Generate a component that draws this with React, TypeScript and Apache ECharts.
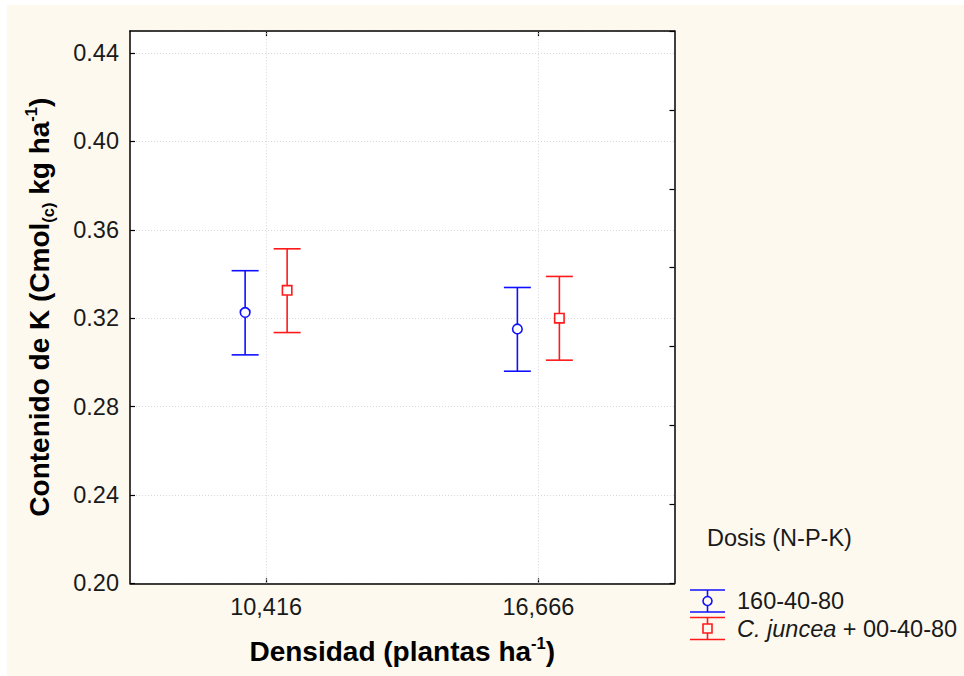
import React, { useEffect, useRef } from "react";
import * as echarts from "echarts";

const categories = ["10,416", "16,666"];
const seriesNames = ["160-40-80", "C. juncea + 00-40-80"];
const seriesColors = ["#1010ff", "#ff1a1a"];
const mean160 = [0.3226, 0.3151];
const lower160 = [0.3034, 0.296];
const upper160 = [0.3415, 0.3339];
const meanCj = [0.3326, 0.32];
const lowerCj = [0.3135, 0.301];
const upperCj = [0.3514, 0.3389];
const yMin = 0.2;
const yMax = 0.45;
const yInterval = 0.04;

const FONT = "'Liberation Sans', Arial, sans-serif";

function makeSeries(
  name: string,
  color: string,
  means: number[],
  lows: number[],
  highs: number[],
  dx: number,
  marker: "circle" | "square",
  withGrid: boolean
) {
  const data = means.map((m, i) => [i, m, lows[i], highs[i]]);
  const s: any = {
    type: "custom",
    name,
    data,
    encode: { x: 0, y: [1, 2, 3] },
    z: 5,
    renderItem: (params: any, api: any) => {
      const idx = api.value(0);
      const mid = api.coord([idx, api.value(1)]);
      const lo = api.coord([idx, api.value(2)]);
      const hi = api.coord([idx, api.value(3)]);
      const x = mid[0] + dx;
      const cap = 13.5;
      const ls = { stroke: color, lineWidth: 1.6, fill: null };
      const children: any[] = [
        { type: "line", shape: { x1: x, y1: hi[1], x2: x, y2: lo[1] }, style: ls },
        { type: "line", shape: { x1: x - cap, y1: hi[1], x2: x + cap, y2: hi[1] }, style: ls },
        { type: "line", shape: { x1: x - cap, y1: lo[1], x2: x + cap, y2: lo[1] }, style: ls },
      ];
      if (marker === "circle") {
        children.push({
          type: "circle",
          shape: { cx: x, cy: mid[1], r: 4.8 },
          style: { stroke: color, lineWidth: 1.6, fill: "#ffffff" },
        });
      } else {
        children.push({
          type: "rect",
          shape: { x: x - 4.7, y: mid[1] - 4.7, width: 9.4, height: 9.4 },
          style: { stroke: color, lineWidth: 1.6, fill: "#ffffff" },
        });
      }
      return { type: "group", children };
    },
  };
  if (withGrid) {
    s.markLine = {
      silent: true,
      symbol: "none",
      label: { show: false },
      lineStyle: { color: "#d6d6d6", type: [1, 2], width: 1 },
      data: categories.map((c) => ({ xAxis: c })),
      z: 1,
    };
  }
  return s;
}

function legendItem(y: number, color: string, marker: "circle" | "square") {
  const x1 = 690;
  const x2 = 725;
  const cx = (x1 + x2) / 2;
  const ls = { stroke: color, lineWidth: 1.6, fill: null };
  const els: any[] = [
    { type: "line", shape: { x1, y1: y - 11, x2, y2: y - 11 }, style: ls },
    { type: "line", shape: { x1, y1: y + 11, x2, y2: y + 11 }, style: ls },
    { type: "line", shape: { x1: cx, y1: y - 11, x2: cx, y2: y + 11 }, style: ls },
  ];
  if (marker === "circle") {
    els.push({ type: "circle", shape: { cx, cy: y, r: 4.5 }, style: { stroke: color, lineWidth: 1.6, fill: "#fdf9ef" } });
  } else {
    els.push({
      type: "rect",
      shape: { x: cx - 4.5, y: y - 4.5, width: 9, height: 9 },
      style: { stroke: color, lineWidth: 1.6, fill: "#fdf9ef" },
    });
  }
  return els;
}

export default function App() {
  const ref = useRef<HTMLDivElement>(null);
  useEffect(() => {
    if (!ref.current) return;
    const chart = echarts.init(ref.current, null, { renderer: "svg" });
    const tickStyle = { color: "#000", width: 1.2 };
    const axisLineStyle = { color: "#000", width: 1.5 };
    const option: any = {
      animation: false,
      backgroundColor: "#ffffff",
      textStyle: { fontFamily: FONT },
      grid: {
        left: 130,
        right: 289.5,
        top: 31,
        bottom: 92.7,
        show: true,
        backgroundColor: "#ffffff",
        borderWidth: 0,
        z: 0,
      },
      xAxis: [
        {
          type: "category",
          data: categories,
          position: "bottom",
          axisLine: { show: true, lineStyle: axisLineStyle },
          axisTick: { show: true, inside: true, length: 5, alignWithLabel: true, lineStyle: tickStyle },
          axisLabel: { fontSize: 23.5, color: "#1a1a1a", margin: 12, fontFamily: FONT },
          splitLine: { show: false },
          name: "Densidad (plantas ha{sup|-1})",
          nameLocation: "middle",
          nameGap: 51,
          nameTextStyle: {
            fontSize: 28,
            fontWeight: "bold",
            color: "#000",
            fontFamily: FONT,
            lineHeight: 34,
            rich: {
              sup: { fontSize: 16.5, fontWeight: "bold", verticalAlign: "top", lineHeight: 16, color: "#000", fontFamily: FONT },
            },
          },
        },
        {
          type: "category",
          data: categories,
          position: "top",
          axisLine: { show: true, lineStyle: axisLineStyle },
          axisTick: { show: true, inside: true, length: 5, alignWithLabel: true, lineStyle: tickStyle },
          axisLabel: { show: false },
          splitLine: { show: false },
        },
      ],
      yAxis: [
        {
          type: "value",
          min: yMin,
          max: yMax,
          interval: yInterval,
          position: "left",
          axisLine: { show: true, lineStyle: axisLineStyle },
          axisTick: { show: true, inside: true, length: 5, lineStyle: tickStyle },
          axisLabel: {
            fontSize: 23.5,
            color: "#1a1a1a",
            margin: 11,
            fontFamily: FONT,
            showMaxLabel: false,
            formatter: (v: number) => (Math.abs(v - yMax) < 1e-9 ? "" : v.toFixed(2)),
          },
          splitLine: { show: true, lineStyle: { color: "#d8d8d8", type: [1, 2], width: 1 } },
          name: "Contenido de K (Cmol{sub|(c)} kg ha{sup|-1})",
          nameLocation: "middle",
          nameRotate: 90,
          nameGap: 74,
          nameTextStyle: {
            fontSize: 28,
            fontWeight: "bold",
            color: "#000",
            fontFamily: FONT,
            lineHeight: 34,
            rich: {
              sup: { fontSize: 16.5, fontWeight: "bold", verticalAlign: "top", lineHeight: 16, color: "#000", fontFamily: FONT },
              sub: { fontSize: 16.5, fontWeight: "bold", verticalAlign: "bottom", lineHeight: 14, color: "#000", fontFamily: FONT },
            },
          },
        },
        {
          type: "value",
          min: 0,
          max: 7,
          interval: 1,
          position: "right",
          axisLine: { show: true, lineStyle: axisLineStyle },
          axisTick: { show: true, inside: true, length: 5, lineStyle: tickStyle },
          axisLabel: { show: false },
          splitLine: { show: false },
        },
      ],
      series: [
        makeSeries(seriesNames[0], seriesColors[0], mean160, lower160, upper160, -21, "circle", true),
        makeSeries(seriesNames[1], seriesColors[1], meanCj, lowerCj, upperCj, 21, "square", false),
      ],
      graphic: [
        {
          type: "rect",
          shape: { x: 7, y: 5, width: 957, height: 671 },
          style: { fill: "#fdf9ef" },
          z: -10,
          silent: true,
        },
        {
          type: "text",
          x: 707,
          y: 538,
          style: {
            text: "Dosis (N-P-K)",
            font: `23.5px ${FONT}`,
            fill: "#1a1a1a",
            verticalAlign: "middle",
            align: "left",
          },
        },
        ...legendItem(601, seriesColors[0], "circle"),
        ...legendItem(628.5, seriesColors[1], "square"),
        {
          type: "text",
          x: 737,
          y: 601,
          style: {
            text: seriesNames[0],
            font: `23.5px ${FONT}`,
            fill: "#1a1a1a",
            verticalAlign: "middle",
            align: "left",
          },
        },
        {
          type: "text",
          x: 737,
          y: 628.5,
          style: {
            text: "{i|C. juncea} + 00-40-80",
            font: `23.5px ${FONT}`,
            fill: "#1a1a1a",
            verticalAlign: "middle",
            align: "left",
            rich: {
              i: { fontStyle: "italic", fontSize: 23.5, fontFamily: FONT, fill: "#1a1a1a" },
            },
          },
        },
      ],
    };
    chart.setOption(option);
    return () => chart.dispose();
  }, []);
  return (
    <div
      ref={ref}
      style={{ position: "fixed", left: 0, top: 0, width: 964, height: 676 }}
    />
  );
}
